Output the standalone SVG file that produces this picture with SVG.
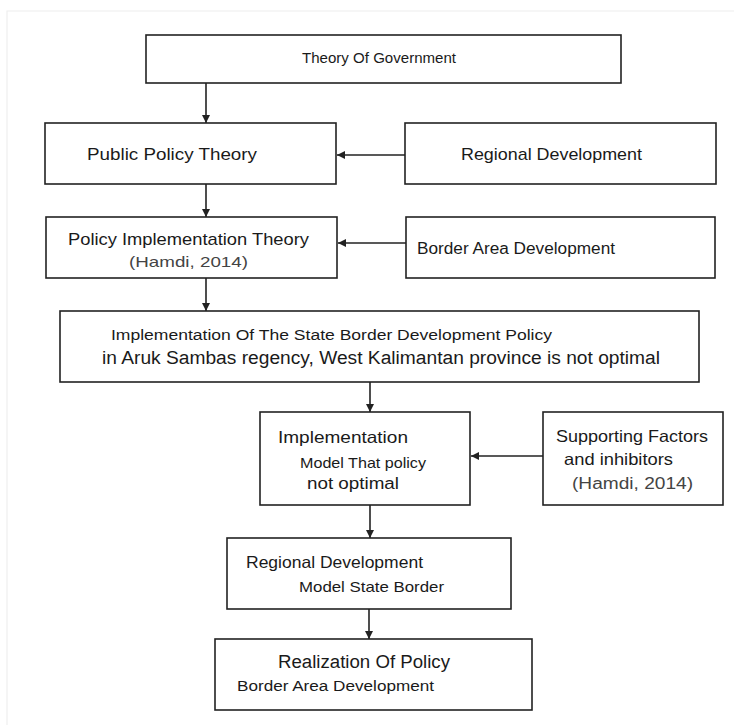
<svg xmlns="http://www.w3.org/2000/svg" width="734" height="725" viewBox="0 0 734 725">
<style>
.box{fill:#fff;stroke:#222;stroke-width:1.6}
.t{font-family:"Liberation Sans",Arial,sans-serif;fill:#1a1a1a}
.g{fill:#444}
.c{stroke:#222;stroke-width:1.6;fill:none;marker-end:url(#ah)}
</style>
<defs>
<marker id="ah" viewBox="0 0 10 10" refX="10" refY="5" markerWidth="8" markerHeight="8" markerUnits="userSpaceOnUse" orient="auto">
<path d="M0,0 L10,5 L0,10 z" fill="#222"/>
</marker>
</defs>
<rect width="734" height="725" fill="#fff"/>
<path d="M7,725 V11 H734" stroke="#eeeeee" stroke-width="1.2" fill="none"/>
<g id="connectors">
<line class="c" x1="206" y1="83" x2="206" y2="123"/>
<line class="c" x1="206" y1="184" x2="206" y2="217"/>
<line class="c" x1="206" y1="278" x2="206" y2="311"/>
<line class="c" x1="405" y1="155" x2="337" y2="155"/>
<line class="c" x1="406" y1="243" x2="338" y2="243"/>
<line class="c" x1="370" y1="382" x2="370" y2="412"/>
<line class="c" x1="543" y1="456" x2="471" y2="456"/>
<line class="c" x1="370" y1="505" x2="370" y2="538"/>
<line class="c" x1="369" y1="609" x2="369" y2="639"/>
</g>
<g id="theory-government">
<rect class="box" x="146" y="35" width="475" height="48"/>
<text class="t" x="302" y="63" font-size="14.5" textLength="154" lengthAdjust="spacingAndGlyphs">Theory Of Government</text>
</g>
<g id="public-policy">
<rect class="box" x="45" y="123" width="291" height="61"/>
<text class="t" x="87" y="160" font-size="17" textLength="170" lengthAdjust="spacingAndGlyphs">Public Policy Theory</text>
</g>
<g id="regional-development">
<rect class="box" x="405" y="123" width="311" height="61"/>
<text class="t" x="461" y="160" font-size="17" textLength="181" lengthAdjust="spacingAndGlyphs">Regional Development</text>
</g>
<g id="policy-implementation">
<rect class="box" x="46" y="217" width="291" height="61"/>
<text class="t" x="68" y="245" font-size="17" textLength="241" lengthAdjust="spacingAndGlyphs">Policy Implementation Theory</text>
<text class="t g" x="129" y="267" font-size="15" textLength="119" lengthAdjust="spacingAndGlyphs">(Hamdi, 2014)</text>
</g>
<g id="border-area">
<rect class="box" x="406" y="217" width="309" height="61"/>
<text class="t" x="417" y="254" font-size="16" textLength="198" lengthAdjust="spacingAndGlyphs">Border Area Development</text>
</g>
<g id="state-border-policy">
<rect class="box" x="60" y="311" width="639" height="71"/>
<text class="t" x="111" y="340" font-size="14" textLength="441" lengthAdjust="spacingAndGlyphs">Implementation Of The State Border Development Policy</text>
<text class="t" x="102" y="364" font-size="18" textLength="558" lengthAdjust="spacingAndGlyphs">in Aruk Sambas regency, West Kalimantan province is not optimal</text>
</g>
<g id="implementation-model">
<rect class="box" x="260" y="412" width="210" height="93"/>
<text class="t" x="278" y="443" font-size="16.5" textLength="130" lengthAdjust="spacingAndGlyphs">Implementation</text>
<text class="t" x="300" y="468" font-size="15" textLength="126" lengthAdjust="spacingAndGlyphs">Model That policy</text>
<text class="t" x="307" y="489" font-size="16" textLength="92" lengthAdjust="spacingAndGlyphs">not optimal</text>
</g>
<g id="supporting-factors">
<rect class="box" x="543" y="412" width="180" height="93"/>
<text class="t" x="556" y="442" font-size="16.5" textLength="152" lengthAdjust="spacingAndGlyphs">Supporting Factors</text>
<text class="t" x="564" y="465" font-size="16.5" textLength="109" lengthAdjust="spacingAndGlyphs">and inhibitors</text>
<text class="t g" x="572" y="489" font-size="16" textLength="121" lengthAdjust="spacingAndGlyphs">(Hamdi, 2014)</text>
</g>
<g id="regional-model">
<rect class="box" x="227" y="538" width="284" height="71"/>
<text class="t" x="246" y="568" font-size="16.5" textLength="177" lengthAdjust="spacingAndGlyphs">Regional Development</text>
<text class="t" x="299" y="592" font-size="15" textLength="145" lengthAdjust="spacingAndGlyphs">Model State Border</text>
</g>
<g id="realization">
<rect class="box" x="215" y="639" width="317" height="71"/>
<text class="t" x="278" y="668" font-size="18" textLength="172" lengthAdjust="spacingAndGlyphs">Realization Of Policy</text>
<text class="t" x="237" y="691" font-size="14" textLength="197" lengthAdjust="spacingAndGlyphs">Border Area Development</text>
</g>
</svg>
